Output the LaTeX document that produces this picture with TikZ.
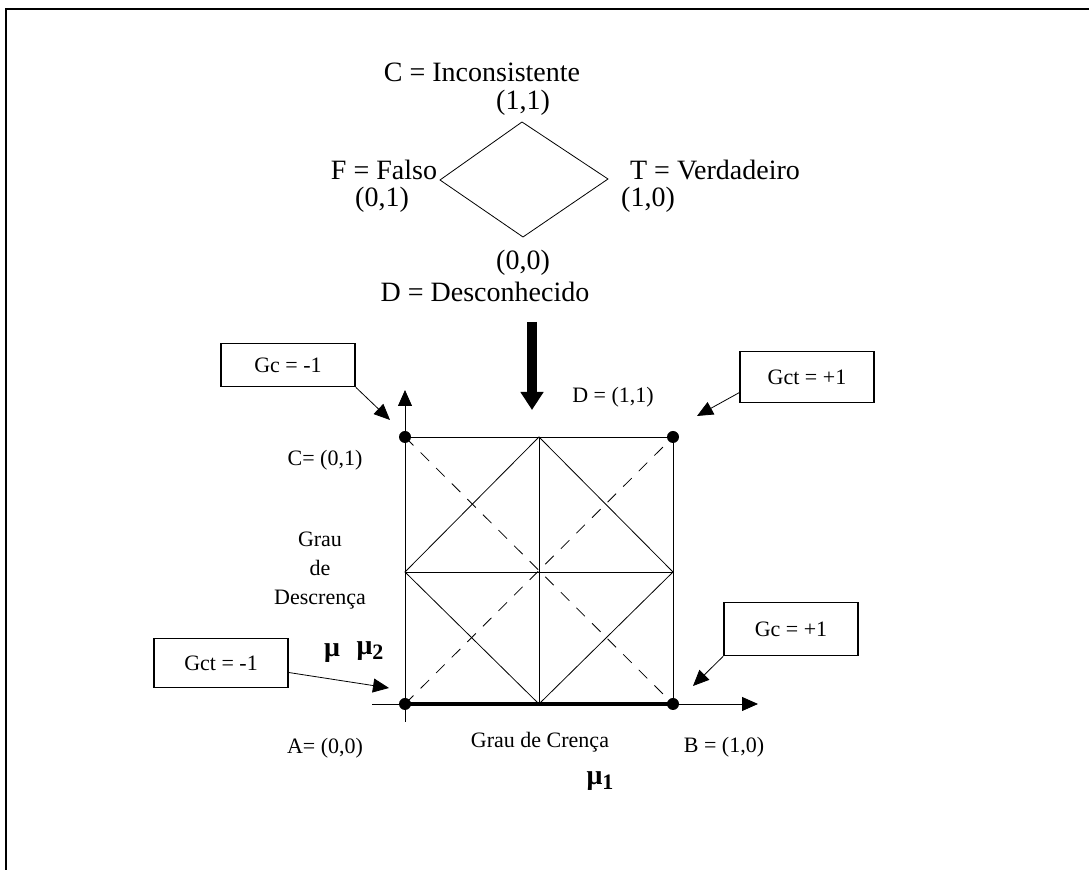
\documentclass[tikz,border=0pt]{standalone}
\usepackage{fontspec}
\setmainfont{Liberation Serif}
\usetikzlibrary{arrows.meta}
\begin{document}
\begin{tikzpicture}[x=0.5pt,y=-0.5pt,
  big/.style={font=\fontsize{14}{16}\selectfont},
  small/.style={font=\fontsize{11}{14.5}\selectfont},
  mulab/.style={font=\fontsize{14}{16}\selectfont\bfseries},
  gbox/.style={draw,line width=0.8pt,minimum width=67pt,small},
  tip/.style={-{Triangle[length=8pt,width=7pt]}}]
\useasboundingbox (0,0) rectangle (1089,870);
\draw[line width=1.2pt] (6,870) -- (6,9) -- (1089,9);
\coordinate (n) at (522,122); \coordinate (e) at (608,179); \coordinate (s) at (523,237); \coordinate (w) at (440,180);
\draw (n) -- (e) -- (s) -- (w) -- cycle;
\node[big] (inc) at (482,72) {C = Inconsistente};
\node[big] (inc11) at (523,103) {(1,1)};
\node[big] (fal) at (384,170) {F = Falso};
\node[big] (fal01) at (382,200) {(0,1)};
\node[big] (ver) at (715,170) {T = Verdadeiro};
\node[big] (ver10) at (648,200) {(1,0)};
\node[big] (des00) at (523,263) {(0,0)};
\node[big] (des) at (485,292) {D = Desconhecido};
\coordinate (arrtop) at (532,322); \coordinate (arrtip) at (532,410);
\draw[line width=5pt,-{Triangle[length=9pt,width=11pt]}] (arrtop) -- (arrtip);
\coordinate (A) at (405,704); \coordinate (B) at (673,704); \coordinate (C) at (405,437); \coordinate (D) at (673,437);
\coordinate (mt) at (539,437); \coordinate (mr) at (673,572); \coordinate (mb) at (539,704); \coordinate (ml) at (405,572);
\coordinate (ybot) at (405,722); \coordinate (ytip) at (405,390); \coordinate (xbeg) at (372,704); \coordinate (xtip) at (758,704);
\draw[tip] (ybot) -- (ytip);
\draw[tip] (xbeg) -- (xtip);
\draw[line width=1.6pt] (A) -- (B);
\draw (C) -- (D) -- (B);
\draw (mt) -- (mr) -- (mb) -- (ml) -- cycle;
\draw (mt) -- (mb) (ml) -- (mr);
\draw[dash pattern=on 6pt off 5pt] (C) -- (B) (A) -- (D);
\foreach \p in {A,B,C,D} \fill (\p) circle (3pt);
\node[small] (dlab) at (613,397) {D = (1,1)};
\node[small] (clab) at (325,460) {C= (0,1)};
\node[small,align=center] (ydesc) at (320,571) {Grau\\de\\Descrença};
\node[small] (alab) at (325,748) {A= (0,0)};
\node[small] (xdesc) at (540,742) {Grau de Crença};
\node[small] (blab) at (724,747) {B = (1,0)};
\node[mulab] (mu) at (332,653) {μ};
\node[mulab] (mu2) at (370,651) {μ\raisebox{-0.4ex}{\fontsize{11}{11}\selectfont 2}};
\node[mulab] (mu1) at (600,781) {μ\raisebox{-0.4ex}{\fontsize{11}{11}\selectfont 1}};
\node[gbox,minimum height=21.5pt] (gcm) at (288,365) {Gc = -1};
\node[gbox,minimum height=25.5pt] (gctp) at (807,377) {Gct = +1};
\node[gbox,minimum height=24.5pt] (gctm) at (221,663) {Gct = -1};
\node[gbox,minimum height=26.5pt] (gcp) at (791,629) {Gc = +1};
\coordinate (tc1) at (390,420); \coordinate (tc2) at (697,416); \coordinate (tc3) at (389,688); \coordinate (tc4) at (693,686);
\draw[tip] (gcm.south east) -- (tc1);
\draw[tip] (gctp.193) -- (tc2);
\draw[tip] (gctm.352) -- (tc3);
\draw[tip] (gcp.south west) -- (tc4);
\end{tikzpicture}
\end{document}
